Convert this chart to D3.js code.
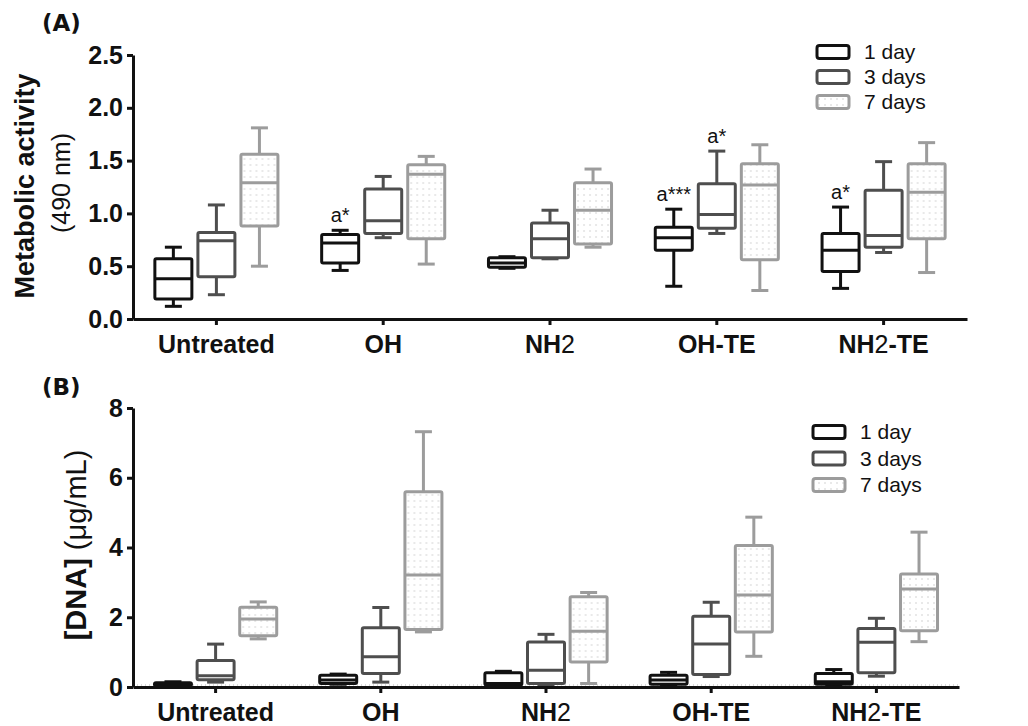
<!DOCTYPE html>
<html lang="en">
<head>
<meta charset="UTF-8">
<title>Metabolic activity and DNA content</title>
<script src="https://d3js.org/d3.v7.min.js"></script>
<style>
  body { margin: 0; padding: 0; background: #fff; }
  svg { display: block; font-family: Arial, "Liberation Sans", sans-serif; }
</style>
</head>
<body>
<svg id="chart"></svg>
<script>
// categories and series
const categories = ["Untreated", "OH", "NH2", "OH-TE", "NH2-TE"];
const days = ["1 day", "3 days", "7 days"];

// panel A: metabolic activity, [min, q1, median, q3, max] per category
const metab1d = [[0.12, 0.19, 0.38, 0.57, 0.68], [0.46, 0.53, 0.72, 0.80, 0.84], [0.48, 0.49, 0.53, 0.58, 0.59], [0.31, 0.65, 0.77, 0.87, 1.04], [0.29, 0.45, 0.65, 0.81, 1.06]];
const metab3d = [[0.23, 0.40, 0.74, 0.82, 1.08], [0.77, 0.81, 0.93, 1.23, 1.35], [0.57, 0.58, 0.76, 0.91, 1.03], [0.81, 0.86, 0.99, 1.28, 1.59], [0.63, 0.68, 0.79, 1.22, 1.49]];
const metab7d = [[0.50, 0.88, 1.29, 1.56, 1.81], [0.52, 0.76, 1.37, 1.46, 1.54], [0.68, 0.71, 1.03, 1.29, 1.42], [0.27, 0.56, 1.27, 1.47, 1.65], [0.44, 0.76, 1.20, 1.47, 1.67]];
const metabTicks = [0, 0.5, 1.0, 1.5, 2.0, 2.5];
const metabNotes = [["OH", "1 day", "a*"], ["OH-TE", "1 day", "a***"], ["OH-TE", "3 days", "a*"], ["NH2-TE", "1 day", "a*"]];

// panel B: DNA, [min, q1, median, q3, max] per category
const dna1d = [[0.02, 0.04, 0.07, 0.12, 0.15], [0.08, 0.10, 0.20, 0.34, 0.37], [0.03, 0.06, 0.10, 0.41, 0.45], [0.04, 0.08, 0.20, 0.34, 0.42], [0.03, 0.08, 0.15, 0.39, 0.50]];
const dna3d = [[0.14, 0.21, 0.32, 0.76, 1.23], [0.14, 0.39, 0.87, 1.70, 2.28], [0.05, 0.10, 0.48, 1.29, 1.51], [0.30, 0.36, 1.23, 2.03, 2.43], [0.31, 0.41, 1.28, 1.68, 1.97]];
const dna7d = [[1.38, 1.47, 1.95, 2.29, 2.44], [1.58, 1.65, 3.21, 5.60, 7.32], [0.10, 0.72, 1.60, 2.59, 2.71], [0.88, 1.58, 2.64, 4.06, 4.87], [1.30, 1.61, 2.81, 3.24, 4.44]];
const dnaTicks = [0, 2, 4, 6, 8];

const colors = ["#111111", "#4e4e4e", "#9c9c9c"];
const fills = ["#fff", "#fff", "url(#dots)"];
const boxW = 37, capW = 17;

const svg = d3.select("#chart").attr("width", 1028).attr("height", 726);

const defs = svg.append("defs");
const pat = defs.append("pattern").attr("id", "dots")
    .attr("width", 6).attr("height", 6).attr("patternUnits", "userSpaceOnUse");
pat.append("rect").attr("width", 6).attr("height", 6).attr("fill", "#fff");
pat.append("circle").attr("cx", 3).attr("cy", 3).attr("r", 0.75).attr("fill", "#c8c8c8");

function labelTspans(sel) {
    // NH2 -> bold NH, normal 2
    sel.each(function(d) {
        const t = d3.select(this).text("");
        const parts = d.split(/(2)/);
        parts.forEach(p => {
            if (!p) return;
            t.append("tspan").text(p).attr("font-weight", p === "2" ? "normal" : "bold");
        });
    });
}

function drawPanel(p) {
    const x = d3.scaleBand().domain(categories).range([p.left, p.right]);
    const xs = d3.scalePoint().domain(days).range([-x.bandwidth() * 0.258, x.bandwidth() * 0.258]);
    const y = d3.scaleLinear().domain([p.ticks[0], p.ticks[p.ticks.length - 1]]).range([p.bottom, p.top]);

    const g = svg.append("g");

    if (p.zeroLine) {
        g.append("line")
            .attr("x1", p.left).attr("x2", p.right)
            .attr("y1", y(0) - 2).attr("y2", y(0) - 2)
            .attr("stroke", "#b5b5b5").attr("stroke-width", 1).attr("stroke-dasharray", "1,3");
    }

    // boxes
    p.series.forEach((vals, si) => {
        const sg = g.append("g");
        const items = vals.map((v, ci) => ({ cat: categories[ci], v: v }));
        const b = sg.selectAll("g").data(items).enter().append("g")
            .attr("transform", d => `translate(${x(d.cat) + x.bandwidth() / 2 + xs(days[si])},0)`)
            .attr("stroke", colors[si]).attr("stroke-width", 3).attr("fill", "none");
        b.append("line").attr("x1", 0).attr("x2", 0).attr("y1", d => y(d.v[4])).attr("y2", d => y(d.v[3]));
        b.append("line").attr("x1", 0).attr("x2", 0).attr("y1", d => y(d.v[1])).attr("y2", d => y(d.v[0]));
        b.append("line").attr("x1", -capW / 2).attr("x2", capW / 2).attr("y1", d => y(d.v[4])).attr("y2", d => y(d.v[4]));
        b.append("line").attr("x1", -capW / 2).attr("x2", capW / 2).attr("y1", d => y(d.v[0])).attr("y2", d => y(d.v[0]));
        b.append("rect")
            .attr("x", -boxW / 2).attr("width", boxW)
            .attr("y", d => y(d.v[3])).attr("height", d => Math.max(1, y(d.v[1]) - y(d.v[3])))
            .attr("rx", 1.5).attr("fill", fills[si]).attr("stroke-linejoin", "round");
        b.append("line").attr("x1", -boxW / 2).attr("x2", boxW / 2).attr("y1", d => y(d.v[2])).attr("y2", d => y(d.v[2]));
    });

    // annotations
    if (p.notes) {
        p.notes.forEach(n => {
            const ci = categories.indexOf(n[0]), si = days.indexOf(n[1]);
            g.append("text")
                .attr("x", x(n[0]) + x.bandwidth() / 2 + xs(n[1]))
                .attr("y", y(p.series[si][ci][4]) - 8)
                .attr("text-anchor", "middle").attr("font-size", 20).attr("fill", "#111")
                .text(n[2]);
        });
    }

    // axes
    const ya = g.append("g").attr("transform", `translate(${p.left},0)`)
        .call(d3.axisLeft(y).tickValues(p.ticks).tickFormat(p.fmt).tickSize(6).tickSizeOuter(0).tickPadding(4));
    const xa = g.append("g").attr("transform", `translate(0,${p.bottom})`)
        .call(d3.axisBottom(x).tickSize(6).tickSizeOuter(0).tickPadding(10));
    [ya, xa].forEach(a => {
        a.select(".domain").attr("stroke", "#111").attr("stroke-width", 3);
        a.selectAll(".tick line").attr("stroke", "#111").attr("stroke-width", 3);
        a.selectAll(".tick text").attr("font-family", "Arial, 'Liberation Sans', sans-serif")
            .attr("font-size", 25).attr("font-weight", "bold").attr("fill", "#111");
    });
    xa.selectAll(".tick text").call(labelTspans);

    // legend
    const lg = g.append("g");
    days.forEach((dname, i) => {
        const cy = p.legendY + i * p.legendStep;
        lg.append("rect").attr("x", p.legendX).attr("y", cy - 6.5).attr("width", 32).attr("height", 13)
            .attr("rx", 2.5).attr("fill", fills[i]).attr("stroke", colors[i]).attr("stroke-width", 3);
        lg.append("text").attr("x", p.legendX + 47).attr("y", cy).attr("dy", "0.35em")
            .attr("font-size", 21).attr("fill", "#111").text(dname);
    });

    // panel letter
    svg.append("text").attr("x", 42).attr("y", p.letterY)
        .attr("font-family", "'DejaVu Sans', sans-serif").attr("font-weight", "bold")
        .attr("font-size", 23).attr("fill", "#111").text(p.letter);
}

drawPanel({
    left: 133, right: 967, top: 55, bottom: 319,
    ticks: metabTicks, fmt: d3.format(".1f"),
    series: [metab1d, metab3d, metab7d], notes: metabNotes,
    legendX: 817, legendY: 52, legendStep: 25,
    letter: "(A)", letterY: 31
});

drawPanel({
    left: 133, right: 959, top: 408, bottom: 687,
    ticks: dnaTicks, fmt: d3.format("d"),
    series: [dna1d, dna3d, dna7d], zeroLine: true,
    legendX: 813, legendY: 432, legendStep: 26.5,
    letter: "(B)", letterY: 395
});

// y axis titles
svg.append("text").attr("transform", "translate(34,186) rotate(-90)")
    .attr("text-anchor", "middle").attr("font-size", 27).attr("font-weight", "bold").attr("fill", "#111")
    .text("Metabolic activity");
svg.append("text").attr("transform", "translate(70,183) rotate(-90)")
    .attr("text-anchor", "middle").attr("font-size", 25).attr("fill", "#111")
    .text("(490 nm)");
const dnaTitle = svg.append("text").attr("transform", "translate(86,545) rotate(-90)")
    .attr("text-anchor", "middle").attr("font-size", 29).attr("fill", "#111");
dnaTitle.append("tspan").attr("font-weight", "bold").text("[DNA]");
dnaTitle.append("tspan").text(" (\u03bcg/mL)");
</script>
</body>
</html>
